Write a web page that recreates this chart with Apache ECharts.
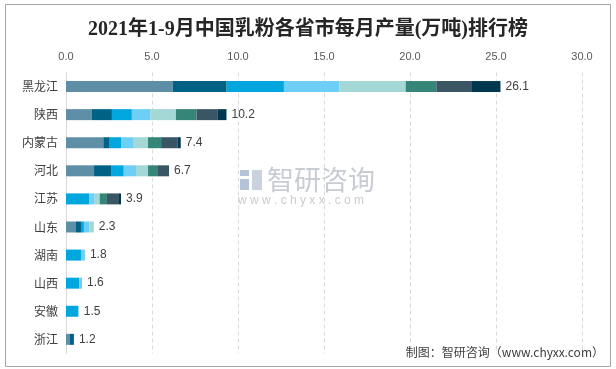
<!DOCTYPE html>
<html><head><meta charset="utf-8">
<script src="https://cdn.jsdelivr.net/npm/echarts@6/dist/echarts.min.js"></script>
<style>html,body{margin:0;padding:0;background:#fff}#c{width:616px;height:369px}</style>
</head><body><div id="c"></div>
<script>
const provinces = ['黑龙江','陕西','内蒙古','河北','江苏','山东','湖南','山西','安徽','浙江'];
const totals = [26.1, 10.2, 7.4, 6.7, 3.9, 2.3, 1.8, 1.6, 1.5, 1.2];
const monthNames = ['1-2月','3月','4月','5月','6月','7月','8月','9月'];
const m12 = [6.20, 1.51, 2.17, 1.63, 0,    0.58, 0,    0,    0,    0.23];
const m3  = [3.14, 1.16, 0.33, 0.99, 0,    0.29, 0,    0,    0,    0.23];
const m4  = [3.33, 1.16, 0.70, 0.74, 1.34, 0.17, 0.87, 0.77, 0.70, 0];
const m5  = [3.22, 1.09, 0.74, 0.71, 0.33, 0.33, 0.23, 0.16, 0.04, 0];
const m6  = [3.86, 1.47, 0.83, 0.70, 0.29, 0.25, 0,    0,    0,    0];
const m7  = [1.78, 1.20, 0.76, 0.58, 0.42, 0,    0,    0,    0,    0];
const m8  = [2.03, 1.24, 0.95, 0.64, 0.70, 0,    0,    0,    0,    0];
const m9  = [1.70, 0.50, 0.19, 0,    0.12, 0,    0,    0,    0,    0];
const axisTicks = [0, 5, 10, 15, 20, 25, 30];
const colors = ['#5f8fa7','#006385','#00a6de','#6ecff6','#a3d8d6','#358579','#3a5664','#00394f'];

const monthData = [m12, m3, m4, m5, m6, m7, m8, m9];
const series = monthData.map((d, i) => ({
  name: monthNames[i], type: 'bar', stack: 'total', data: d, barWidth: 11,
  itemStyle: { color: colors[i] }, emphasis: { disabled: true }
}));
series.push({
  name: '合计', type: 'bar', stack: 'total', data: provinces.map(() => 0), barWidth: 11,
  itemStyle: { color: 'transparent' },
  label: { show: true, position: 'right', distance: 5, color: '#404040', fontSize: 12,
    fontFamily: 'Liberation Sans, Noto Sans CJK SC',
    formatter: p => totals[p.dataIndex].toFixed(1) }
});

const chart = echarts.init(document.getElementById('c'), null, { renderer: 'canvas' });
chart.setOption({
  animation: false,
  title: { text: '2021年1-9月中国乳粉各省市每月产量(万吨)排行榜', left: 'center', top: 15,
    textStyle: { fontSize: 20, fontWeight: 'bold', color: '#262626', fontFamily: 'Liberation Serif, Noto Sans CJK SC' } },
  grid: { left: 66, right: 34, top: 72.5, bottom: 15.6 },
  xAxis: { type: 'value', position: 'top', min: axisTicks[0], max: axisTicks[axisTicks.length-1], interval: 5,
    axisLine: { show: false }, axisTick: { show: false },
    axisLabel: { formatter: v => v.toFixed(1), color: '#595959', fontSize: 11, margin: 10, fontFamily: 'Liberation Sans' },
    splitLine: { show: true, lineStyle: { color: '#d9d9d9', type: [4, 3] } } },
  yAxis: { type: 'category', data: provinces, inverse: true,
    axisLine: { show: true, lineStyle: { color: '#d9d9d9' } }, axisTick: { show: false },
    axisLabel: { color: '#404040', fontSize: 12, margin: 8, fontFamily: 'Noto Sans CJK SC' } },
  series: series,
  graphic: [
    { type: 'rect', shape: { x: 5.5, y: 4.5, width: 605, height: 362 }, style: { fill: 'none', stroke: '#a6a6a6', lineWidth: 1 }, z: 100 },
    { type: 'rect', shape: { x: 240, y: 170, width: 9, height: 6 }, style: { fill: '#b4c3d8' }, z: 5 },
    { type: 'rect', shape: { x: 240, y: 179, width: 9, height: 11 }, style: { fill: '#b4c3d8' }, z: 5 },
    { type: 'rect', shape: { x: 252, y: 170, width: 10, height: 20 }, style: { fill: '#c9d2de' }, z: 5 },
    { type: 'text', left: 267, top: 166, style: { text: '智研咨询', fill: '#c8ccd3', fontSize: 27, fontFamily: 'Noto Sans CJK SC' }, z: 5 },
    { type: 'text', left: 238, top: 195, style: { text: 'w w w . c h y x x . c o m', fill: '#c8ccd3', fontSize: 12, fontFamily: 'Liberation Sans' }, z: 5 },
    { type: 'text', right: 12, top: 346, style: { text: '制图：智研咨询（www.chyxx.com）', fill: '#404040', fontSize: 12, fontFamily: 'Noto Sans CJK SC' }, z: 100 }
  ]
});
</script></body></html>
